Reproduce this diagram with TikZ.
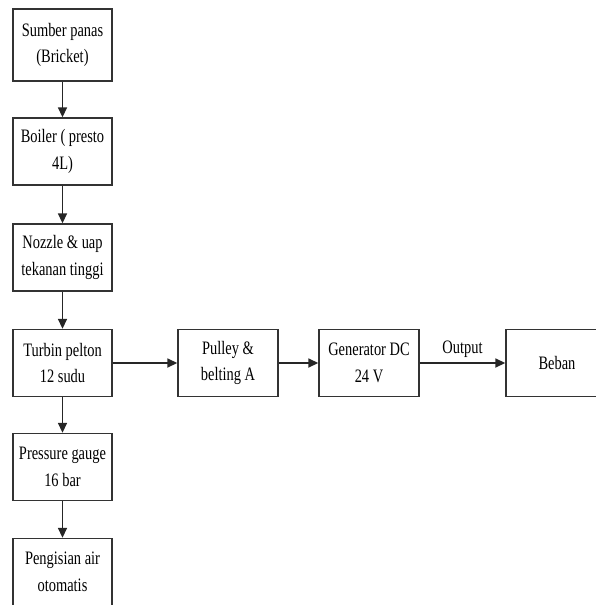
\documentclass[tikz,border=0pt]{standalone}
\usepackage{fontspec}
\setmainfont{Liberation Serif}[FakeStretch=0.76]
\usetikzlibrary{arrows.meta}
\begin{document}
\begin{tikzpicture}[x=1pt,y=-1pt,
  box/.style={draw=black!80,line width=1.4pt,minimum width=99pt,minimum height=67pt,inner sep=0pt,align=center,font=\fontsize{19}{26.5}\selectfont},
  arr/.style={draw=black!85,line width=1.7pt,-{Triangle[length=10pt,width=9pt]}},
  lbl/.style={font=\fontsize{19}{26}\selectfont}]
\useasboundingbox (0,0) rectangle (595,605);
\node[box,minimum height=72pt] (b1) at (62.5,45) {Sumber panas\\(Bricket)};
\node[box] (b2) at (62.5,151.5) {Boiler ( presto\\4L)};
\node[box] (b3) at (62.5,257.5) {Nozzle \& uap\\tekanan tinggi};
\node[box] (b4) at (62.5,363) {Turbin pelton\\12 sudu};
\node[box] (b5) at (62.5,467) {Pressure gauge\\16 bar};
\node[box] (b6) at (62.5,572) {Pengisian air\\otomatis};
\node[box,minimum width=100pt] (p) at (228,363) {Pulley \&\\belting A};
\node[box,minimum width=100pt] (g) at (369,363) {Generator DC\\24 V};
\node[box,minimum width=102pt] (l) at (557,363) {Beban};
\draw[arr] (b1) -- (b2);
\draw[arr] (b2) -- (b3);
\draw[arr] (b3) -- (b4);
\draw[arr] (b4) -- (b5);
\draw[arr] (b5) -- (b6);
\draw[arr] (b4) -- (p);
\draw[arr] (p) -- (g);
\draw[arr] (g) -- node[lbl,above=1pt] (o) {Output} (l);
\end{tikzpicture}
\end{document}
